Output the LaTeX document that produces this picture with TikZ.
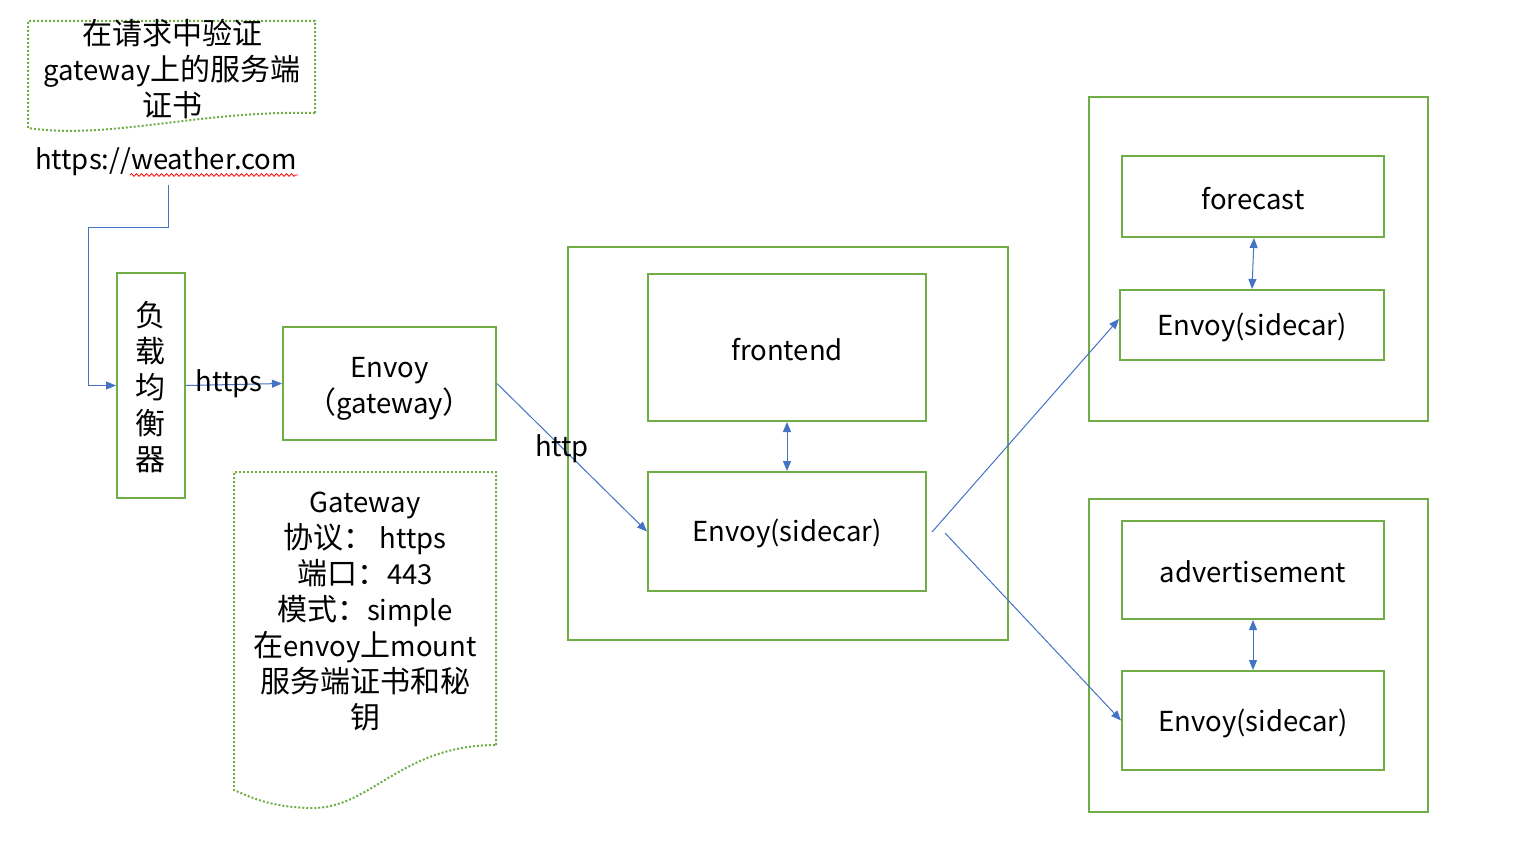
\documentclass[tikz,border=0pt]{standalone}
\usepackage{fontspec}
\setmainfont{Noto Sans CJK SC}
\usetikzlibrary{arrows.meta,decorations.pathmorphing}
\definecolor{grn}{HTML}{70AD47}
\definecolor{blu}{HTML}{4472C4}
\newcommand{\zh}[1]{{\fontsize{30}{36}\selectfont #1}}
\tikzset{
  gbox/.style={draw=grn,line width=2pt,inner sep=0pt},
  lbl/.style={font=\fontsize{27.5}{36}\selectfont,align=center,inner sep=0pt},
  conn/.style={draw=blu,line width=1pt,-{Triangle[length=10pt,width=8pt]}},
  biconn/.style={draw=blu,line width=1pt,{Triangle[length=10pt,width=8pt]}-{Triangle[length=10pt,width=8pt]}},
  docline/.style={draw=grn,line width=2pt,dotted},
}
\begin{document}
\begin{tikzpicture}[x=1pt,y=-1pt]
\useasboundingbox (0,0) rectangle (1522,866);
% top-left document note
\draw[docline] (315,113) -- (315,21) -- (28,21) -- (28,128) .. controls (110,140) and (200,110) .. (315,113);
\node[lbl] (note1) at (172,69) {\zh{在请求中验证}\\gateway\zh{上的服务端}\\\zh{证书}};
% url
\node[lbl] (url) at (166,162) {https://weather.com};
\draw[red,line width=0.8pt,decorate,decoration={snake,amplitude=1.3pt,segment length=5pt}] (130,175) -- (298,175);
\coordinate (urlout) at (168,185);
% load balancer
\node[gbox,minimum width=68pt,minimum height=225pt] (lb) at (151,385.5) {};
\node[lbl] (lbtxt) at (150,387) {\zh{负}\\\zh{载}\\\zh{均}\\\zh{衡}\\\zh{器}};
\draw[conn] (urlout) |- (88,228) |- (lb.west);
% envoy gateway
\node[gbox,minimum width=213pt,minimum height=113pt] (gw) at (389.5,383.5) {};
\node[lbl] (gwtxt) at (389.5,389) {Envoy\\\zh{（}gateway\zh{）}};
\draw[conn] (lb.east) -- (gw.west) node[lbl,midway,fill=none,xshift=-5pt,yshift=1pt] (https) {https};
% gateway note
\draw[docline] (496,745) -- (496,472) -- (234,472) -- (234,790) .. controls (250,797) and (270,807) .. (310,808) .. controls (370,810) and (400,745) .. (496,745);
\node[lbl] (note2) at (365,612) {Gateway\\\zh{协议：} https\\\zh{端口：}443\\\zh{模式：}simple\\\zh{在}envoy\zh{上}mount\\\zh{服务端证书和秘}\\\zh{钥}};
% middle group
\node[gbox,minimum width=440pt,minimum height=393pt] (mid) at (788,443.5) {};
\node[gbox,minimum width=278pt,minimum height=147pt] (fe) at (787,347.5) {};
\node[lbl] (fetxt) at (787,350) {frontend};
\node[gbox,minimum width=278pt,minimum height=119pt] (fes) at (787,531.5) {};
\node[lbl] (festxt) at (787,533) {Envoy(sidecar)};
\draw[biconn] (fe.south) -- (fes.north);
\draw[conn] (gw.east) -- (fes.west);
\node[lbl] (http) at (562,449) {http};
% right top group
\node[gbox,minimum width=339pt,minimum height=324pt] (rt) at (1258.5,259) {};
\node[gbox,minimum width=262pt,minimum height=81pt] (fc) at (1253,196.5) {};
\node[lbl] (fctxt) at (1253,199) {forecast};
\node[gbox,minimum width=264pt,minimum height=70pt] (fcs) at (1252,325) {};
\node[lbl] (fcstxt) at (1252,327) {Envoy(sidecar)};
\draw[biconn] ([xshift=1pt]fc.south) -- ([xshift=0pt]fcs.north);
% right bottom group
\node[gbox,minimum width=339pt,minimum height=313pt] (rb) at (1258.5,655.5) {};
\node[gbox,minimum width=262pt,minimum height=98pt] (ad) at (1253,570) {};
\node[lbl] (adtxt) at (1253,572) {advertisement};
\node[gbox,minimum width=262pt,minimum height=99pt] (ads) at (1253,720.5) {};
\node[lbl] (adstxt) at (1253,723) {Envoy(sidecar)};
\draw[biconn] (ad.south) -- (ads.north);
% sidecar fan-out
\coordinate (o1) at (932,532);
\coordinate (o2) at (945,533);
\draw[conn] (o1) -- ([yshift=6pt]fcs.west);
\draw[conn] (o2) -- (ads.west);
\end{tikzpicture}
\end{document}
